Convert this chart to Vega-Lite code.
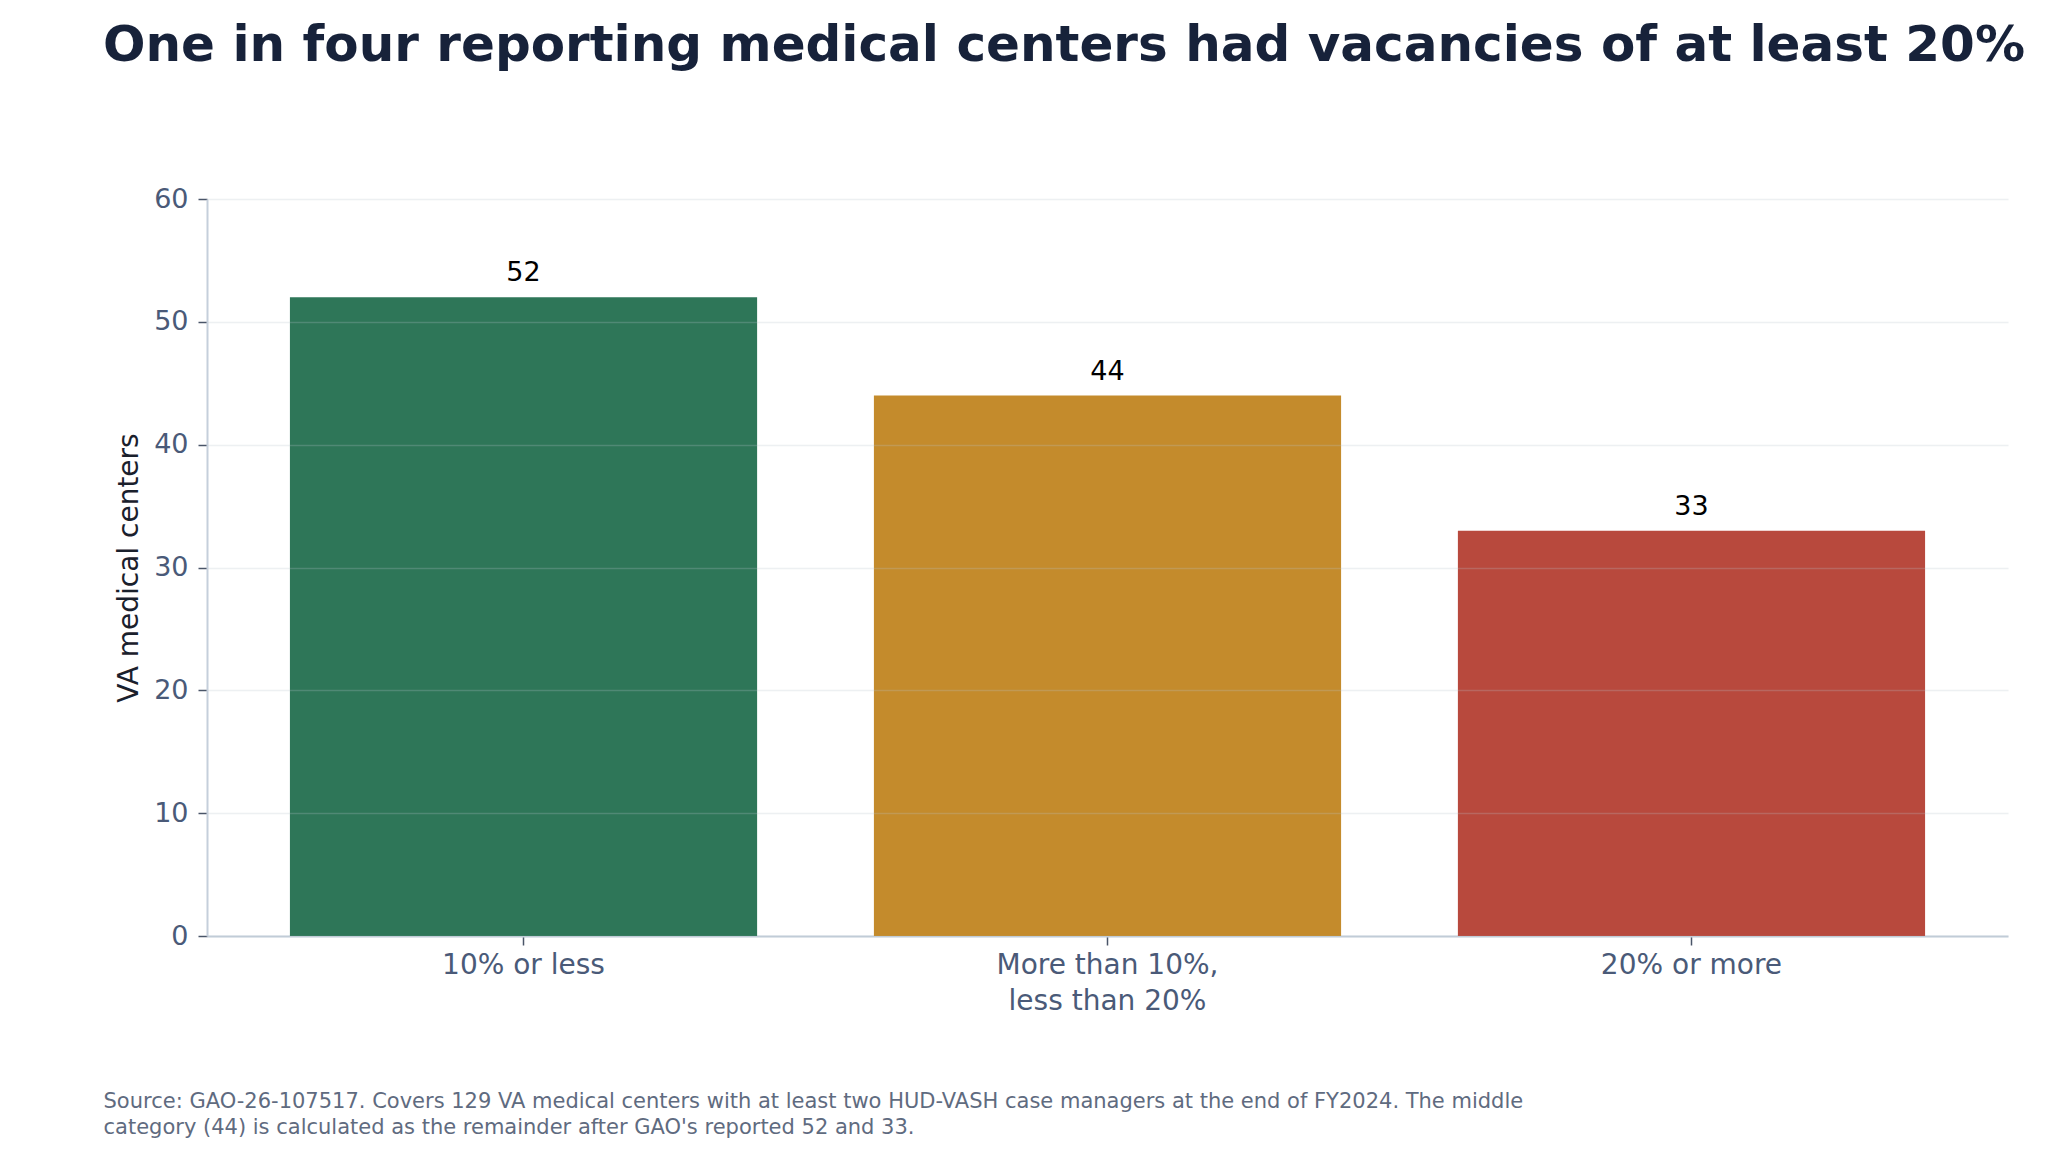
{
  "$schema": "https://vega.github.io/schema/vega-lite/v6.json",
  "width": 1801,
  "height": 737,
  "autosize": "none",
  "padding": {"left": 207, "top": 199, "right": 41, "bottom": 234},
  "background": "white",
  "config": {
    "font": "DejaVu Sans",
    "view": {"stroke": null}
  },
  "title": {
    "text": "One in four reporting medical centers had vacancies of at least 20%",
    "anchor": "start",
    "frame": "group",
    "font": "DejaVu Sans",
    "fontSize": 50,
    "fontWeight": "bold",
    "color": "#17223a",
    "dx": -104,
    "offset": 114
  },
  "data": {
    "values": [
      {"band": "10% or less", "centers": 52},
      {"band": "More than 10%,\nless than 20%", "centers": 44},
      {"band": "20% or more", "centers": 33}
    ]
  },
  "encoding": {
    "x": {
      "field": "band",
      "type": "nominal",
      "sort": null,
      "scale": {"paddingInner": 0.2, "paddingOuter": 0.142},
      "axis": {
        "title": ["Source: GAO-26-107517. Covers 129 VA medical centers with at least two HUD-VASH case managers at the end of FY2024. The middle", "category (44) is calculated as the remainder after GAO's reported 52 and 33."],
        "titleFontSize": 21,
        "titleFontWeight": "normal",
        "titleColor": "#5f6b80",
        "titleAlign": "left",
        "titleAnchor": "start",
        "titleBaseline": "alphabetic",
        "titleLineHeight": 26,
        "titleX": -104,
        "titleY": 171,
        "labelAngle": 0,
        "labelExpr": "split(datum.label, '\\n')",
        "labelLimit": 0,
        "labelFontSize": 28,
        "labelColor": "#4a5a78",
        "labelLineHeight": 36,
        "labelPadding": 6,
        "tickSize": 9,
        "tickColor": "#4a5568",
        "tickWidth": 1.5,
        "domainColor": "#c5cfdb",
        "domainWidth": 2,
        "grid": false
      }
    }
  },
  "layer": [
    {
      "mark": {"type": "bar"},
      "encoding": {
        "y": {
          "field": "centers",
          "type": "quantitative",
          "scale": {"domain": [0, 60], "nice": false},
          "axis": {
            "title": "VA medical centers",
            "titleFontSize": 28,
            "titleFontWeight": "normal",
            "titleColor": "#1a202c",
            "titlePadding": 10,
            "values": [0, 10, 20, 30, 40, 50, 60],
            "labelFontSize": 27,
            "labelColor": "#4a5a78",
            "labelPadding": 10,
            "tickSize": 9,
            "tickColor": "#4a5568",
            "tickWidth": 1.5,
            "domainColor": "#c5cfdb",
            "domainWidth": 2,
            "gridColor": "#b8c2cc",
            "gridOpacity": 0.25,
            "gridWidth": 1.5,
            "zindex": 1
          }
        },
        "color": {
          "field": "band",
          "type": "nominal",
          "sort": null,
          "scale": {"range": ["#2e7658", "#c48b2c", "#b8493d"]},
          "legend": null
        }
      }
    },
    {
      "mark": {"type": "text", "baseline": "alphabetic", "dy": -16, "fontSize": 27, "color": "#000000"},
      "encoding": {
        "y": {"field": "centers", "type": "quantitative"},
        "text": {"field": "centers", "type": "quantitative"}
      }
    }
  ]
}
